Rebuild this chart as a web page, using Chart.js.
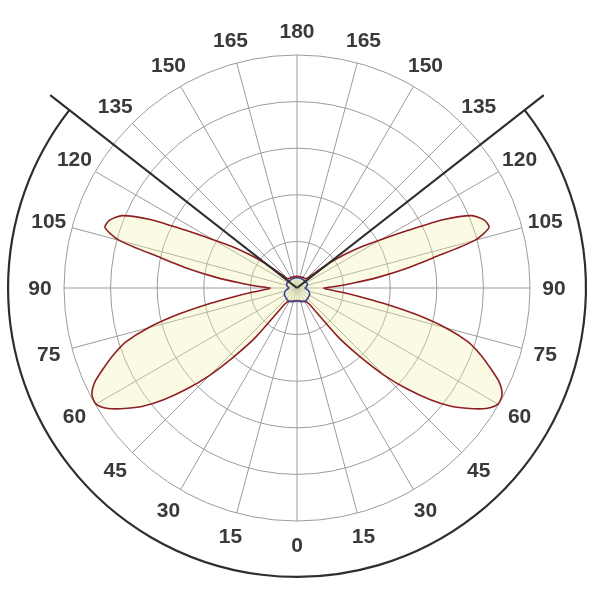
<!DOCTYPE html>
<html>
<head>
<meta charset="utf-8">
<script src="https://cdn.jsdelivr.net/npm/chart.js@4/dist/chart.umd.min.js"></script>
<style>
    html, body { margin: 0; padding: 0; background: #fff; }
    #wrap { width: 595px; height: 595px; }
</style>
</head>
<body>
<div id="wrap"><canvas id="polar"></canvas></div>
<script>
// gamma angles 0..180 in 2.5 deg steps (one half-plane, diagram is symmetric)
const gammaStep = 2.5;
const angleTicks = [0, 15, 30, 45, 60, 75, 90, 105, 120, 135, 150, 165, 180];

// C0-C180 plane (red), outer circle = 500
const redPlane = [
    27, 27, 27, 27, 28, 28, 28, 29, 29, 30, 31, 32, 33, 35, 37, 46,
    137, 199, 265, 321, 372, 417, 451, 481, 498, 496, 479, 449, 419, 385, 331, 261, 188, 130, 92, 66,
    58, 85, 122, 175, 235, 299, 395, 432, 427, 406, 348, 267, 207, 167, 126, 90, 53, 34, 29, 27,
    27, 26, 26, 26, 26, 26, 26, 25, 25, 25, 25, 25, 25, 25, 25, 25, 25
];

// C90-C270 plane (blue)
const bluePlane = [
    28, 28, 29, 29, 29, 29, 30, 31, 31, 32, 32, 33, 33, 33, 33, 33,
    33, 32, 32, 32, 32, 31, 31, 31, 31, 31, 30, 29, 28, 27, 26, 25, 23, 21, 20, 18,
    17, 18, 19, 20, 21, 22, 23, 23, 24, 24, 24, 24, 23, 23, 23, 23, 23, 23, 23, 22,
    22, 22, 22, 22, 22, 22, 22, 22, 22, 22, 22, 22, 22, 22, 22, 22, 22
];

// cutoff lines and outer arc
const cutoffGamma = 128;
const arcValue = 620;
const lineValue = 672;

// index 0 at the bottom, going clockwise: left half up to 180, then right half back down
function aroundLabels(n) {
    const half = [];
    for (let i = 0; i < n; i++) half.push(i * gammaStep);
    return half.concat(half.slice(1, n - 1).reverse());
}
function aroundValues(half) {
    return half.concat(half.slice(1, half.length - 1).reverse());
}

const labels = aroundLabels(redPlane.length);
const isTick = idx => angleTicks.includes(labels[idx]);

const cutoffPlugin = {
    id: "cutoff",
    afterDatasetsDraw(chart) {
        const scale = chart.scales.r;
        const ctx = chart.ctx;
        const cx = scale.xCenter, cy = scale.yCenter;
        const rArc = scale.getDistanceFromCenterForValue(arcValue);
        const rLine = scale.getDistanceFromCenterForValue(lineValue);
        const a = cutoffGamma * Math.PI / 180;
        ctx.save();
        ctx.strokeStyle = "#2e2e2e";
        ctx.lineWidth = 2.2;
        ctx.beginPath();
        ctx.arc(cx, cy, rArc, Math.PI / 2 - a, Math.PI / 2 + a);
        ctx.stroke();
        [1, -1].forEach(s => {
            ctx.beginPath();
            ctx.moveTo(cx, cy);
            ctx.lineTo(cx + s * rLine * Math.sin(a), cy + rLine * Math.cos(a));
            ctx.stroke();
        });

        // angle labels, centred on their spoke
        ctx.fillStyle = "#3a3a3a";
        ctx.font = "bold 21px 'Liberation Sans', Arial, sans-serif";
        ctx.textAlign = "center";
        ctx.textBaseline = "middle";
        labels.forEach((g, i) => {
            if (!isTick(i)) return;
            const p = scale.getPointPosition(i, scale.drawingArea + 24);
            ctx.fillText(String(g), p.x, p.y + 1);
        });
        ctx.restore();
    }
};

new Chart(document.getElementById("polar"), {
    type: "radar",
    data: {
        labels,
        datasets: [{
            label: "C90-C270",
            data: aroundValues(bluePlane),
            borderColor: "#3a3f8f",
            backgroundColor: "rgba(235,240,190,0.35)",
            borderWidth: 1.5,
            fill: true,
            tension: 0.25,
            pointRadius: 0
        }, {
            label: "C0-C180",
            data: aroundValues(redPlane),
            borderColor: "#8e1f22",
            backgroundColor: "rgba(242,242,172,0.32)",
            borderWidth: 1.6,
            fill: true,
            tension: 0.25,
            pointRadius: 0
        }]
    },
    options: {
        responsive: true,
        maintainAspectRatio: false,
        animation: false,
        layout: { padding: { left: 64, right: 65, top: 55, bottom: 74 } },
        plugins: {
            legend: { display: false },
            tooltip: { enabled: false }
        },
        scales: {
            r: {
                startAngle: 180,
                min: 0,
                max: 500,
                ticks: { display: false, stepSize: 100 },
                grid: { circular: true, color: "#9c9c9c", lineWidth: 1 },
                angleLines: {
                    color: ctx => isTick(ctx.index) ? "#9c9c9c" : "rgba(0,0,0,0)",
                    lineWidth: ctx => isTick(ctx.index) ? 1 : 0
                },
                pointLabels: { display: false }
            }
        }
    },
    plugins: [cutoffPlugin]
});
</script>
</body>
</html>
